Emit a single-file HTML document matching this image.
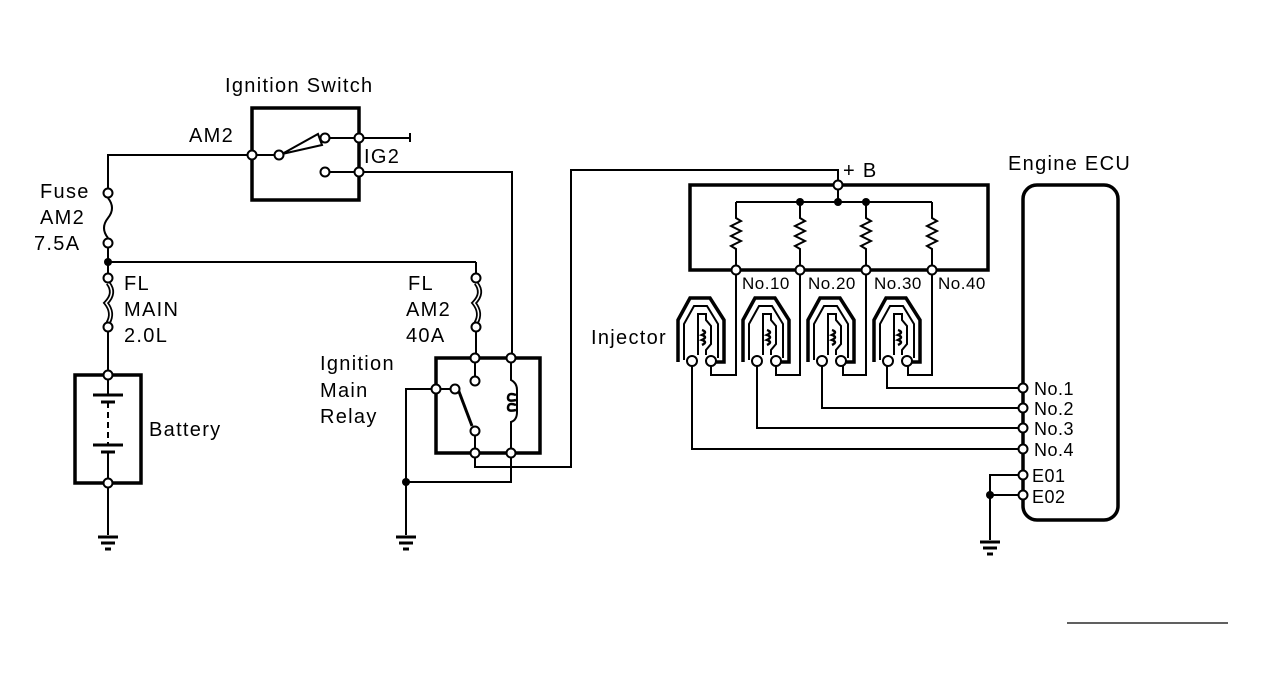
<!DOCTYPE html>
<html><head><style>
html,body{margin:0;padding:0;background:#fff;}
svg{display:block;}
text{font-family:"Liberation Sans",sans-serif;fill:#000;}
</style></head><body>
<svg width="1265" height="699" viewBox="0 0 1265 699" xmlns="http://www.w3.org/2000/svg">
<defs>
<g id="inj">
<path d="M678,362 L678,320 L690,298 L710,298 L724,320 L724,362 L716,362" fill="none" stroke="#000" stroke-width="3.5"/>
<path d="M684,360 L684,324 L694,306 L707,306 L718,324 L718,358" fill="none" stroke="#000" stroke-width="2"/>
<path d="M698,355 L698,314 L706,314 L706,320 L711,326 L711,344 L706,350 L706,355" fill="none" stroke="#000" stroke-width="2"/>
<path d="M702,330 q6,2 0,5 q6,2 0,5 q6,2 0,5" fill="none" stroke="#000" stroke-width="2.5"/>
<circle cx="692" cy="361" r="5" fill="#fff" stroke="#000" stroke-width="2"/>
<circle cx="711" cy="361" r="5" fill="#fff" stroke="#000" stroke-width="2"/>
</g>
<g id="gnd">
<line x1="-10" y1="0" x2="10" y2="0" stroke="#000" stroke-width="3"/>
<line x1="-7" y1="6" x2="7" y2="6" stroke="#000" stroke-width="3"/>
<line x1="-3" y1="12" x2="3" y2="12" stroke="#000" stroke-width="3"/>
</g>
</defs>
<g fill="none" stroke="#000" stroke-width="2">
<rect x="252" y="108" width="107" height="92" stroke-width="3.5"/>
<polyline points="252,155 108,155 108,193"/>
<path d="M108,198 q8,10 0,20 q-8,10 0,20"/>
<line x1="108" y1="248" x2="108" y2="278"/>
<line x1="108" y1="262" x2="476" y2="262"/>
<line x1="476" y1="262" x2="476" y2="278"/>
<path d="M108,283 q8,10 -2,20 q8,10 2,20" stroke-width="5"/>
<path d="M108,283 q8,10 -2,20 q8,10 2,20" stroke="#fff" stroke-width="1.5"/>
<line x1="108" y1="327" x2="108" y2="375"/>
<path d="M476,283 q8,10 -2,20 q8,10 2,20" stroke-width="5"/>
<path d="M476,283 q8,10 -2,20 q8,10 2,20" stroke="#fff" stroke-width="1.5"/>
<line x1="476" y1="327" x2="476" y2="358"/>
<line x1="252" y1="155" x2="279" y2="155"/>
<path d="M282,154 L318,134 L322,145 Z"/>
<line x1="330" y1="138" x2="359" y2="138"/>
<line x1="359" y1="138" x2="410" y2="138"/>
<line x1="410" y1="133" x2="410" y2="142"/>
<line x1="325" y1="172" x2="359" y2="172"/>
<polyline points="359,172 512,172 512,358"/>
<rect x="75" y="375" width="66" height="108" stroke-width="3.5"/>
<line x1="108" y1="375" x2="108" y2="395"/>
<line x1="93" y1="395" x2="123" y2="395" stroke-width="3"/>
<line x1="101" y1="402" x2="115" y2="402" stroke-width="3"/>
<line x1="108" y1="402" x2="108" y2="445" stroke-dasharray="6,4"/>
<line x1="93" y1="445" x2="123" y2="445" stroke-width="3"/>
<line x1="101" y1="452" x2="115" y2="452" stroke-width="3"/>
<line x1="108" y1="452" x2="108" y2="483"/>
<line x1="108" y1="483" x2="108" y2="535"/>
<rect x="436" y="358" width="104" height="95" stroke-width="3.5"/>
<line x1="475" y1="358" x2="475" y2="381"/>
<line x1="436" y1="389" x2="455" y2="389"/>
<line x1="458" y1="389" x2="472" y2="426" stroke-width="3"/>
<line x1="475" y1="431" x2="475" y2="453"/>
<path d="M511,358 L511,380 q6,3 6,10 L517,412 q0,8 -6,10 L511,453"/>
<path d="M516,395 q-8,-3 -8,3 q0,4 8,2 M516,405 q-8,-3 -8,3 q0,4 8,2" stroke-width="2.5"/>
<polyline points="475,453 475,467 571,467 571,170 838,170 838,185"/>
<polyline points="511,453 511,482 406,482"/>
<polyline points="436,389 406,389 406,535"/>
<rect x="690" y="185" width="298" height="85" stroke-width="3.5"/>
<line x1="838" y1="185" x2="838" y2="202"/>
<line x1="736" y1="202" x2="932" y2="202"/>
<path d="M736,202 L736,218 l5,3 -10,5 10,5 -10,5 10,5 -10,5 5,3 L736,270"/>
<path d="M800,202 L800,218 l5,3 -10,5 10,5 -10,5 10,5 -10,5 5,3 L800,270"/>
<path d="M866,202 L866,218 l5,3 -10,5 10,5 -10,5 10,5 -10,5 5,3 L866,270"/>
<path d="M932,202 L932,218 l5,3 -10,5 10,5 -10,5 10,5 -10,5 5,3 L932,270"/>
<polyline points="711,366 711,375 736,375 736,270"/>
<polyline points="776,366 776,375 800,375 800,270"/>
<polyline points="843,366 843,375 866,375 866,270"/>
<polyline points="908,366 908,375 932,375 932,270"/>
<polyline points="692,366 692,449 1023,449"/>
<polyline points="757,366 757,428 1023,428"/>
<polyline points="822,366 822,408 1023,408"/>
<polyline points="887,366 887,388 1023,388"/>
<rect x="1023" y="185" width="95" height="335" rx="14" stroke-width="3.5"/>
<polyline points="1023,475 990,475 990,540"/>
<line x1="990" y1="495" x2="1023" y2="495"/>
<line x1="1067" y1="623" x2="1228" y2="623" stroke-width="1.2"/>
</g>
<use href="#inj"/>
<use href="#inj" transform="translate(65,0)"/>
<use href="#inj" transform="translate(130,0)"/>
<use href="#inj" transform="translate(196,0)"/>
<use href="#gnd" transform="translate(108,537)"/>
<use href="#gnd" transform="translate(406,537)"/>
<use href="#gnd" transform="translate(990,542)"/>
<g fill="#fff" stroke="#000" stroke-width="2">
<circle cx="252" cy="155" r="4.5"/><circle cx="279" cy="155" r="4.5"/>
<circle cx="325" cy="138" r="4.5"/><circle cx="359" cy="138" r="4.5"/>
<circle cx="325" cy="172" r="4.5"/><circle cx="359" cy="172" r="4.5"/>
<circle cx="108" cy="193" r="4.5"/><circle cx="108" cy="243" r="4.5"/>
<circle cx="108" cy="278" r="4.5"/><circle cx="108" cy="327" r="4.5"/>
<circle cx="476" cy="278" r="4.5"/><circle cx="476" cy="327" r="4.5"/>
<circle cx="108" cy="375" r="4.5"/><circle cx="108" cy="483" r="4.5"/>
<circle cx="475" cy="358" r="4.5"/><circle cx="511" cy="358" r="4.5"/>
<circle cx="475" cy="381" r="4.5"/><circle cx="436" cy="389" r="4.5"/>
<circle cx="455" cy="389" r="4.5"/><circle cx="475" cy="431" r="4.5"/>
<circle cx="475" cy="453" r="4.5"/><circle cx="511" cy="453" r="4.5"/>
<circle cx="838" cy="185" r="4.5"/>
<circle cx="736" cy="270" r="4.5"/><circle cx="800" cy="270" r="4.5"/>
<circle cx="866" cy="270" r="4.5"/><circle cx="932" cy="270" r="4.5"/>
<circle cx="1023" cy="388" r="4.5"/><circle cx="1023" cy="408" r="4.5"/>
<circle cx="1023" cy="428" r="4.5"/><circle cx="1023" cy="449" r="4.5"/>
<circle cx="1023" cy="475" r="4.5"/><circle cx="1023" cy="495" r="4.5"/>
</g>
<g fill="#000">
<circle cx="108" cy="262" r="4"/><circle cx="406" cy="482" r="4"/>
<circle cx="800" cy="202" r="4"/><circle cx="838" cy="202" r="4"/>
<circle cx="866" cy="202" r="4"/><circle cx="990" cy="495" r="4"/>
</g>
<g font-size="20" letter-spacing="1.3">
<text x="225" y="92">Ignition Switch</text>
<text x="189" y="142">AM2</text>
<text x="364" y="163">IG2</text>
<text x="40" y="198">Fuse</text>
<text x="40" y="224">AM2</text>
<text x="34" y="250">7.5A</text>
<text x="124" y="290">FL</text>
<text x="124" y="316">MAIN</text>
<text x="124" y="342">2.0L</text>
<text x="408" y="290">FL</text>
<text x="406" y="316">AM2</text>
<text x="406" y="342">40A</text>
<text x="320" y="370">Ignition</text>
<text x="320" y="397">Main</text>
<text x="320" y="423">Relay</text>
<text x="149" y="436">Battery</text>
<text x="591" y="344">Injector</text>
<text x="843" y="177">+ B</text>
<text x="1008" y="170">Engine ECU</text>
</g>
<g font-size="17" letter-spacing="0.5">
<text x="742" y="289">No.10</text>
<text x="808" y="289">No.20</text>
<text x="874" y="289">No.30</text>
<text x="938" y="289">No.40</text>
</g>
<g font-size="18" letter-spacing="0.5">
<text x="1034" y="395">No.1</text>
<text x="1034" y="415">No.2</text>
<text x="1034" y="435">No.3</text>
<text x="1034" y="456">No.4</text>
<text x="1032" y="482">E01</text>
<text x="1032" y="503">E02</text>
</g>
</svg>
</body></html>
